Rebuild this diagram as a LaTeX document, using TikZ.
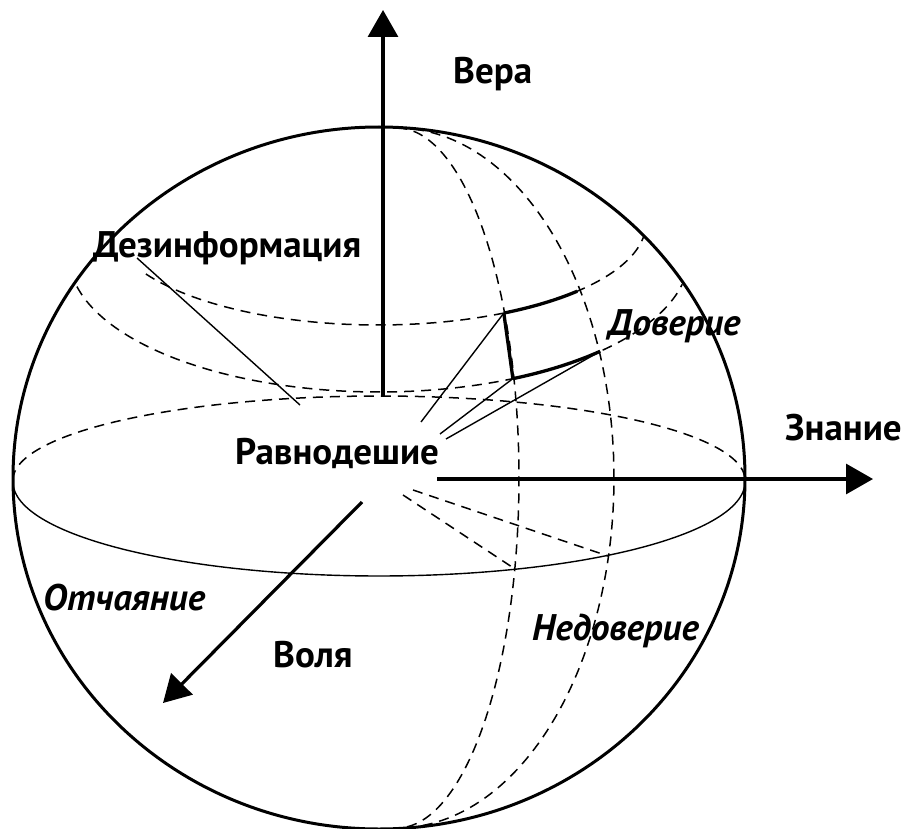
\documentclass[tikz,border=0pt]{standalone}
\usepackage{fontspec}
\setmainfont{PT Sans}
\usetikzlibrary{arrows.meta}
\begin{document}
\begin{tikzpicture}[x=1pt,y=-1pt,
  sphereline/.style={line width=3pt},
  axisline/.style={line width=3.2pt,-{Triangle[length=27pt,width=30pt]}},
  thinline/.style={line width=1.4pt},
  dashline/.style={line width=1.5pt,dash pattern=on 10pt off 7pt},
  quadedge/.style={line width=3.3pt},
  lbl/.style={font=\fontsize{37}{44}\selectfont\bfseries,inner sep=0pt,anchor=base west},
  ilbl/.style={font=\fontsize{37}{44}\selectfont\bfseries\itshape,inner sep=0pt,anchor=base west}]
\useasboundingbox (0,0) rectangle (902,829);

% sphere outline
\draw[sphereline] (379,478) ellipse [x radius=366, y radius=351];

% equator: back (dashed) and front (solid)
\draw[dashline] plot[domain=180:360,samples=120] ({379+366*cos(\x)},{480+84*sin(\x)});
\draw[thinline] plot[domain=0:180,samples=120] ({379+366*cos(\x)},{482+94*sin(\x)});

% latitudes (dashed)
\draw[dashline] plot[domain=150:8,samples=100] ({378+268*cos(\x)},{223+102*sin(\x)});
\draw[dashline] plot[domain=167:12,samples=100] ({379+310*cos(\x)},{256+136*sin(\x)});

% meridians (dashed)
\draw[dashline] plot[domain=-90:90,samples=120] ({397+122*cos(\x)},{478+350*sin(\x)});
\draw[dashline] plot[domain=-90:90,samples=120] ({397+217*cos(\x)},{478+350*sin(\x)});

% quad corners
\coordinate (qtl) at (503.8,313.1);
\coordinate (qtr) at (577.2,291.2);
\coordinate (qbl) at (512.9,378.6);
\coordinate (qbr) at (600.1,351.3);
\draw[quadedge] plot[domain=62:42,samples=30] ({378+268*cos(\x)},{223+102*sin(\x)});
\draw[quadedge] plot[domain=64.4:44.5,samples=30] ({379+310*cos(\x)},{256+136*sin(\x)});
\draw[quadedge] (qtl) -- (qbl);

% cone lines
\coordinate (c1) at (421,422);
\coordinate (c2) at (440,434);
\coordinate (c3) at (446,439);
\draw[thinline] (qtl) -- (c1);
\draw[thinline] (qbl) -- (c2);
\draw[thinline] (qbr) -- (c3);

% dashed radials to front equator
\coordinate (r1s) at (403,495); \coordinate (r1e) at (515,569);
\coordinate (r2s) at (413,490); \coordinate (r2e) at (608,556);
\draw[dashline] (r1s) -- (r1e);
\draw[dashline] (r2s) -- (r2e);

% axes
\coordinate (vbot) at (383,396); \coordinate (vtip) at (383,10);
\coordinate (hstart) at (437,479); \coordinate (htip) at (873,479);
\coordinate (dstart) at (362,502); \coordinate (dtip) at (163,703);
\draw[axisline] (vbot) -- (vtip);
\draw[axisline] (hstart) -- (htip);
\draw[axisline] (dstart) -- (dtip);

% labels
\node[lbl] (vera) at (453,84) {Вера};
\node[lbl] (dezinf) at (93,257) {Дезинформация};
\node[ilbl] (dover) at (608,335) {Доверие};
\node[lbl] (znan) at (785,440) {Знание};
\node[lbl] (ravn) at (235,464) {Равнодешие};
\node[ilbl] (otch) at (43,610) {Отчаяние};
\node[lbl] (volya) at (273,667) {Воля};
\node[ilbl] (nedov) at (532,640) {Недоверие};

% pointer from Дезинформация
\coordinate (dzp1) at (137,258);
\coordinate (dzp2) at (300,405);
\draw[thinline] (dzp1) -- (dzp2);
\end{tikzpicture}
\end{document}
